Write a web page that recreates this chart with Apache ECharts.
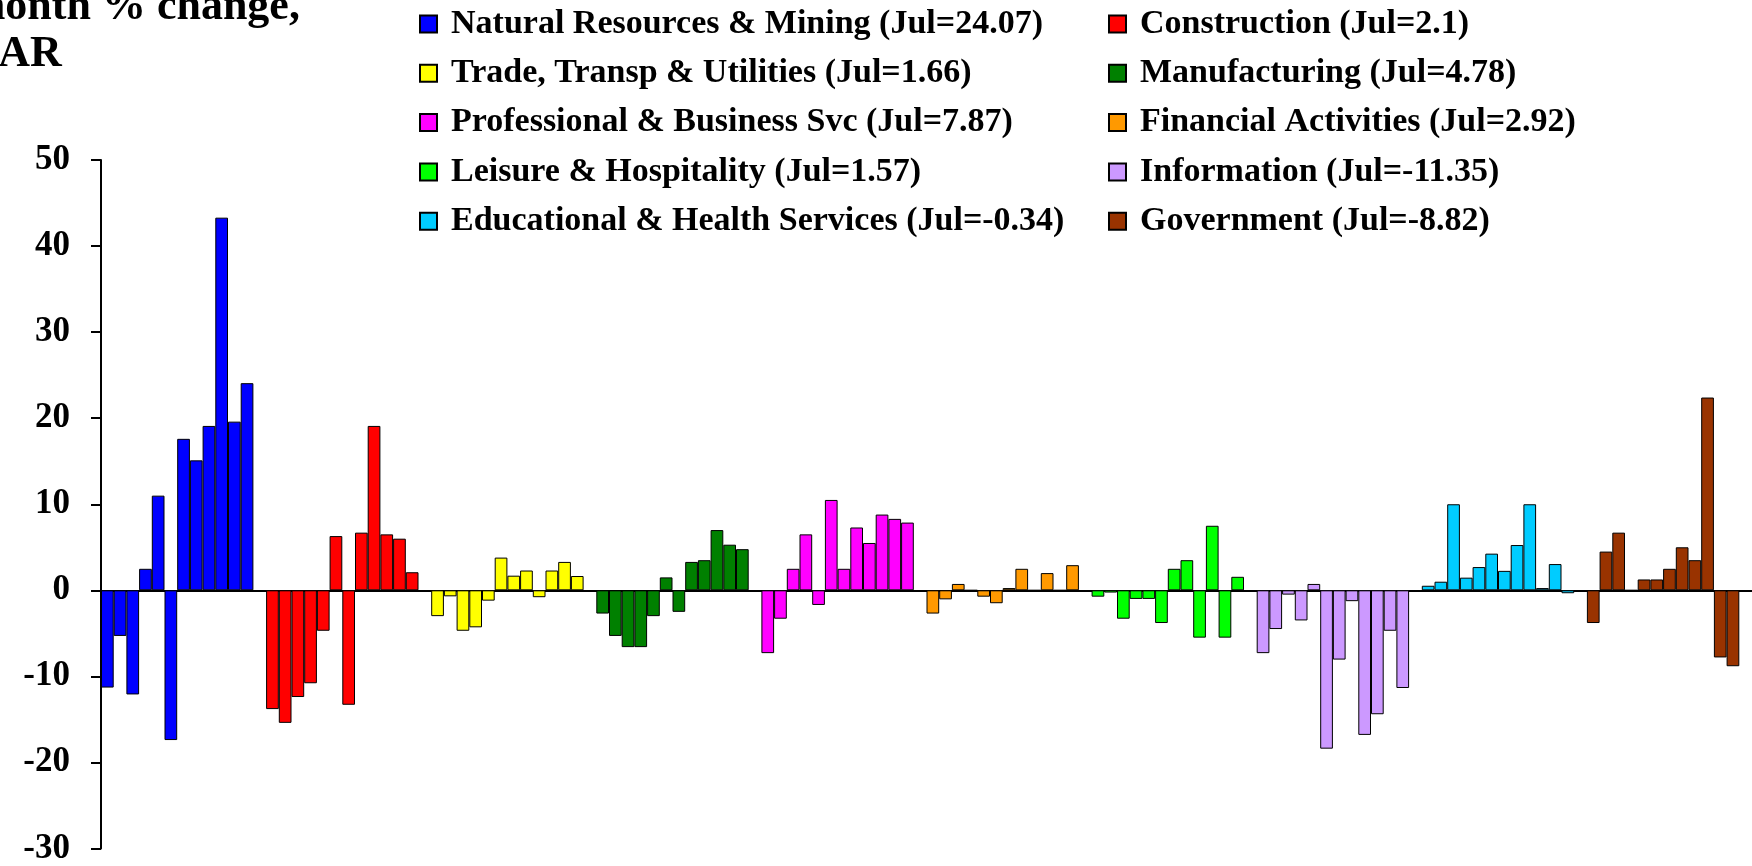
<!DOCTYPE html>
<html>
<head>
<meta charset="utf-8">
<script src="https://cdn.jsdelivr.net/npm/echarts@6/dist/echarts.min.js"></script>
<style>html,body{margin:0;padding:0;background:#fff;}#c{width:1752px;height:866px;}</style>
</head>
<body>
<div id="c"></div>
<script>
// ---- data (month-over-month % change, annualized; Aug..Jul) ----
const months = ['Aug','Sep','Oct','Nov','Dec','Jan','Feb','Mar','Apr','May','Jun','Jul'];
const sectorNames = [
  'Natural Resources & Mining (Jul=24.07)',
  'Construction (Jul=2.1)',
  'Trade, Transp & Utilities (Jul=1.66)',
  'Manufacturing (Jul=4.78)',
  'Professional & Business Svc (Jul=7.87)',
  'Financial Activities (Jul=2.92)',
  'Leisure & Hospitality (Jul=1.57)',
  'Information (Jul=-11.35)',
  'Educational & Health Services (Jul=-0.34)',
  'Government (Jul=-8.82)'
];
const natRes    = [-11.3, -5.3, -12.1, 2.5, 11.0, -17.4, 17.6, 15.1, 19.1, 43.3, 19.6, 24.07];
const construct = [-13.8, -15.4, -12.4, -10.8, -4.7, 6.3, -13.3, 6.7, 19.1, 6.5, 6.0, 2.1];
const trade     = [-3.0, -0.7, -4.7, -4.3, -1.2, 3.8, 1.7, 2.3, -0.8, 2.3, 3.3, 1.66];
const manuf     = [-2.7, -5.3, -6.6, -6.6, -3.0, 1.5, -2.5, 3.3, 3.5, 7.0, 5.3, 4.78];
const profBus   = [-7.3, -3.3, 2.5, 6.5, -1.7, 10.5, 2.5, 7.3, 5.5, 8.8, 8.3, 7.87];
const financial = [-2.7, -1.05, 0.74, 0, -0.74, -1.5, 0.26, 2.5, 0, 2.0, 0, 2.92];
const leisure   = [-0.74, -0.26, -3.3, -1.0, -1.0, -3.8, 2.5, 3.5, -5.5, 7.5, -5.5, 1.57];
const info      = [-7.3, -4.5, -0.5, -3.5, 0.74, -18.4, -8.05, -1.26, -16.8, -14.4, -4.7, -11.35];
const eduHealth = [0.53, 1.0, 10.0, 1.47, 2.7, 4.26, 2.26, 5.26, 10.0, 0.26, 3.05, -0.34];
const govt      = [-3.8, 4.5, 6.7, 0, 1.26, 1.26, 2.5, 5.0, 3.5, 22.4, -7.8, -8.82];
const yTicks = [-30, -20, -10, 0, 10, 20, 30, 40, 50];
const titleLines = ['3-month % change,', 'SAAR'];

const sectorValues = [natRes, construct, trade, manuf, profBus, financial, leisure, info, eduHealth, govt];
const colors = ['#0000FF','#FF0000','#FFFF00','#008000','#FF00FF','#FF9900','#00FF00','#CC99FF','#00CCFF','#993300'];

// categories: 12 months per sector followed by one blank slot
const categories = [];
sectorValues.forEach((vals, g) => {
  months.forEach(m => categories.push('S' + g + '-' + m));
  categories.push('gap' + g);
});

const FONT = '"Liberation Serif", "Times New Roman", serif';

const series = sectorValues.map((vals, g) => {
  const data = categories.map(() => null);
  vals.forEach((v, i) => { data[g * 13 + i] = v; });
  return {
    name: sectorNames[g],
    type: 'bar',
    stack: 'all',
    barCategoryGap: '0%',
    data: data,
    itemStyle: { color: colors[g], borderColor: '#000', borderWidth: 1 }
  };
});

const legendText = { fontFamily: FONT, fontWeight: 'bold', fontSize: 34, color: '#000', lineHeight: 34, padding: [0, 0, 0, 9] };
const col1 = sectorNames.filter((n, i) => i % 2 === 0);
const col2 = sectorNames.filter((n, i) => i % 2 === 1);

const chart = echarts.init(document.getElementById('c'), null, { renderer: 'canvas' });
chart.setOption({
  animation: false,
  backgroundColor: '#fff',
  grid: { left: 101, right: 0, top: 160, bottom: 15, containLabel: false },
  legend: [
    { data: col1, orient: 'vertical', left: 414, top: 2, itemWidth: 17, itemHeight: 17, itemGap: 15.3, icon: 'rect', selectedMode: false, textStyle: legendText },
    { data: col2, orient: 'vertical', left: 1103, top: 2, itemWidth: 17, itemHeight: 17, itemGap: 15.3, icon: 'rect', selectedMode: false, textStyle: legendText }
  ],
  xAxis: {
    type: 'category',
    data: categories,
    boundaryGap: true,
    axisLine: { show: true, onZero: true, lineStyle: { color: '#000', width: 2 } },
    axisTick: { show: false },
    axisLabel: { show: false },
    splitLine: { show: false }
  },
  yAxis: {
    type: 'value',
    min: yTicks[0],
    max: yTicks[yTicks.length - 1],
    interval: 10,
    axisLine: { show: true, lineStyle: { color: '#000', width: 2 } },
    axisTick: { show: true, inside: false, length: 10, lineStyle: { color: '#000', width: 2 } },
    axisLabel: { fontFamily: FONT, fontWeight: 'bold', fontSize: 35, color: '#000', margin: 31 },
    splitLine: { show: false }
  },
  graphic: [
    { type: 'text', x: -68, y: 8, style: { text: titleLines[0], font: 'bold 44px ' + FONT, fill: '#000', verticalAlign: 'middle', align: 'left' }, z: 10 },
    { type: 'text', x: -58, y: 55, style: { text: titleLines[1], font: 'bold 44px ' + FONT, fill: '#000', verticalAlign: 'middle', align: 'left' }, z: 10 }
  ],
  series: series
});
</script>
</body>
</html>
